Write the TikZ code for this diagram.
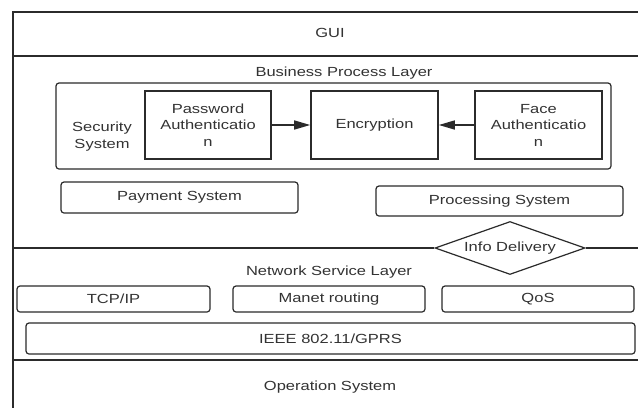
\documentclass[tikz,border=0pt]{standalone}
\usepackage{fontspec}
\setmainfont{Liberation Sans}[FakeStretch=1.25]
\usetikzlibrary{shapes.geometric,arrows.meta}
\definecolor{ink}{HTML}{2B2B2B}
\definecolor{txt}{HTML}{333333}
\tikzset{
  line/.style={draw=ink, line width=1.2pt},
  lbl/.style={font=\fontsize{13.2}{16.5}\selectfont, text=txt, align=center, inner sep=0pt},
  sqbox/.style={line, line width=1.6pt, lbl, minimum width=#1, minimum height=68pt},
  rbox/.style={line, lbl, rounded corners=3pt},
  arr/.style={line, line width=1.5pt, -{Triangle[length=16pt,width=9pt]}, shorten >=0pt},
}
\begin{document}
\begin{tikzpicture}[x=1pt,y=-1pt]
\useasboundingbox (0,0) rectangle (638,408);
\fill[white] (0,0) rectangle (638,408);
% frame
\coordinate (ftl) at (13,12);
\coordinate (ftr) at (638,12);
\coordinate (fbl) at (13,408);
\draw[line] (ftr) -- (ftl) -- (fbl);
\coordinate (g1) at (13,56);
\coordinate (g2) at (638,56);
\draw[line] (g1) -- (g2);
\coordinate (o1) at (13,360);
\coordinate (o2) at (638,360);
\draw[line] (o1) -- (o2);
% layer titles
\node[lbl] (gui) at (330,33) {GUI};
\node[lbl] (bpl) at (344,73) {Business Process Layer};
\node[lbl] (nsl) at (329,272) {Network Service Layer};
\node[lbl] (os) at (330,387) {Operation System};
% security system
\node[rbox, minimum width=555pt, minimum height=86pt] (sec) at (333.5,126) {};
\node[lbl] (sectxt) at (102,136.5) {Security\\System};
\node[sqbox=126pt] (pw) at (208,125) {Password\\Authenticatio\\n};
\node[sqbox=127pt] (enc) at (374.5,125) {Encryption};
\node[sqbox=127pt] (face) at (538.5,125) {Face\\Authenticatio\\n};
\draw[arr] (pw) -- (enc);
\draw[arr] (face) -- (enc);
% payment / processing
\node[rbox, minimum width=237pt, minimum height=31pt] (pay) at (179.5,197.5) {Payment System};
\node[rbox, minimum width=247pt, minimum height=30pt] (proc) at (499.5,201) {Processing System};
% info delivery
\node[line, lbl, shape=diamond, aspect=2.83, minimum width=150pt, minimum height=53pt] (info) at (510,248) {Info Delivery};
\coordinate (n1) at (13,248);
\coordinate (n2) at (638,248);
\draw[line] (n1) -- (info.west);
\draw[line] (info.east) -- (n2);
% network service layer
\node[rbox, minimum width=193pt, minimum height=26pt] (tcp) at (113.5,299) {TCP/IP};
\node[rbox, minimum width=192pt, minimum height=26pt] (manet) at (329,299) {Manet routing};
\node[rbox, minimum width=192pt, minimum height=26pt] (qos) at (538,299) {QoS};
\node[rbox, minimum width=609pt, minimum height=31pt] (ieee) at (330.5,338.5) {IEEE 802.11/GPRS};
\end{tikzpicture}
\end{document}
